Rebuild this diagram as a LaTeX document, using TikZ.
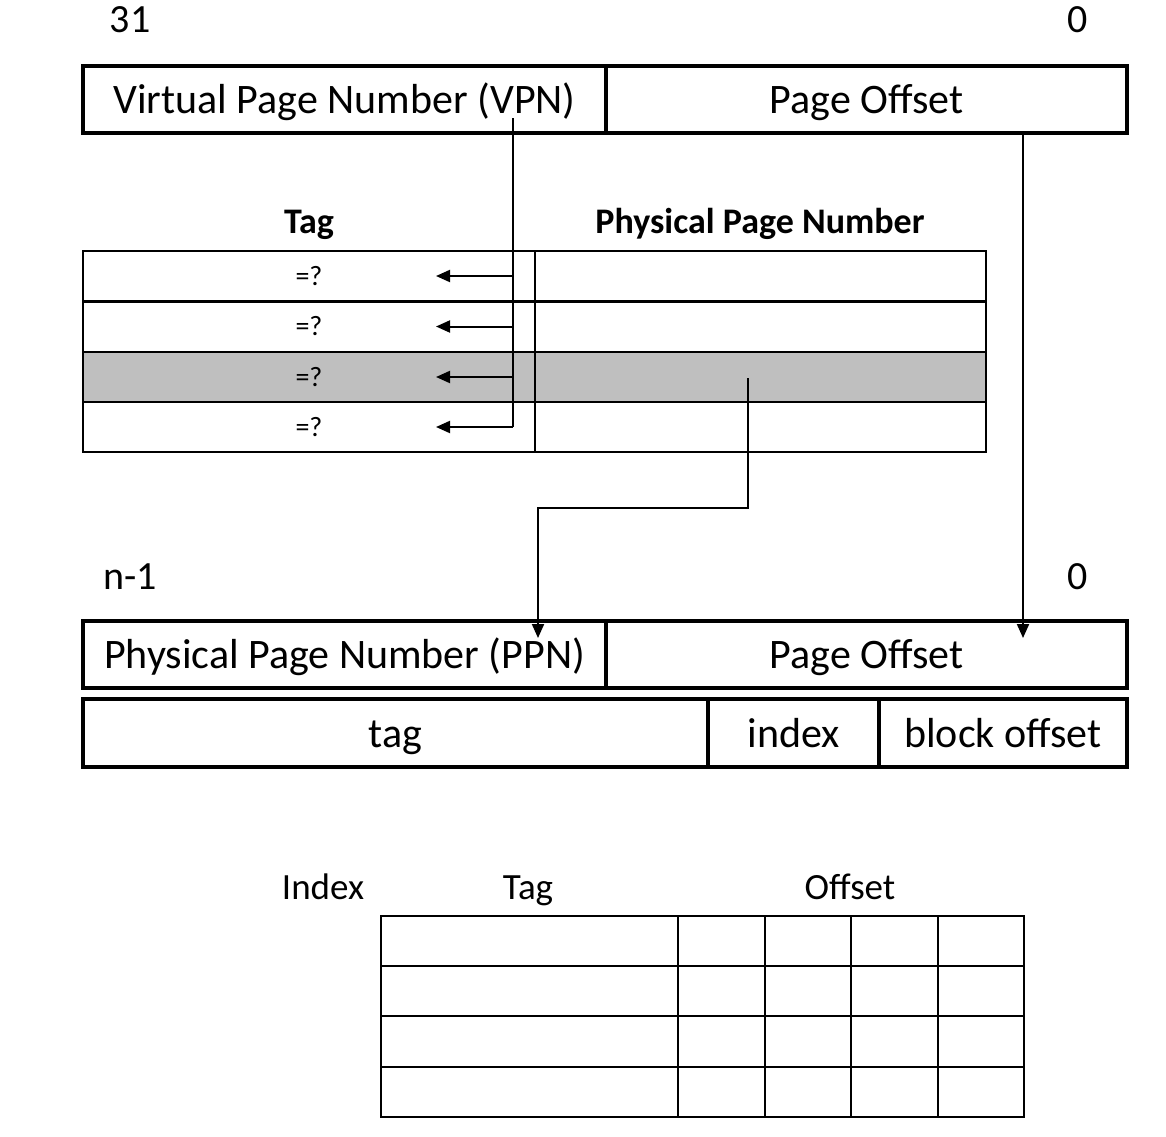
\documentclass[tikz,border=0pt]{standalone}
\usepackage{fontspec}
\setmainfont{Carlito}
\usetikzlibrary{arrows.meta}

\begin{document}
\begin{tikzpicture}[x=0.5pt, y=-0.5pt,
    field/.style ={rectangle, draw, line width=2pt, inner sep=0pt, minimum height=33.5pt, text height=18pt, text depth=4pt, font=\fontsize{21}{24}\selectfont},
    cell/.style ={rectangle, draw, line width=1pt, inner sep=0pt, minimum height=25pt},
    bitno/.style ={font=\fontsize{20}{23}\selectfont},
    hdr/.style ={text height=15pt, text depth=3pt, font=\fontsize{18}{21}\selectfont\bfseries},
    lbl/.style ={text height=16pt, text depth=3pt, font=\fontsize{18.5}{22}\selectfont},
    tip/.style ={line width=1pt, -{Triangle[length=7pt,width=6pt]}}]
   \useasboundingbox (0,0) rectangle (1166,1136);
   % virtual address
   \node[bitno] (va31) at (130,20) {31};
   \node[bitno] (va0)  at (1078,20) {0};
   \node[field, minimum width=261.5pt] (vpn)  at (344.5,99) {Virtual Page Number (VPN)};
   \node[field, minimum width=260.5pt] (voff) at (866.5,99) {Page Offset};
   % TLB
   \node[hdr] (tlbtag) at (309,221) {Tag};
   \node[hdr] (tlbppn) at (760,221) {Physical Page Number};
   \foreach \r/\y/\f in {1/276/white, 2/326.5/white, 3/377/black!25, 4/427/white} {
     \node[cell, fill=\f, minimum width=226pt] (tag\r) at (309,\y) {\fontsize{14}{16}\selectfont =?};
     \node[cell, fill=\f, minimum width=225.5pt] (pn\r) at (760.5,\y) {};
     \coordinate (cmp\r) at (436,\y);
   }
   % physical address
   \node[bitno] (pan1) at (130,577) {n-1};
   \node[bitno] (pa0)  at (1078,577) {0};
   \node[field, minimum width=261.5pt] (ppn)  at (344.5,654.5) {Physical Page Number (PPN)};
   \node[field, minimum width=260.5pt] (poff) at (866.5,654.5) {Page Offset};
   \node[field, minimum width=312.5pt, minimum height=34pt] (ctag) at (395.5,733) {tag};
   \node[field, minimum width=85.5pt, minimum height=34pt] (cidx) at (793.5,733) {index};
   \node[field, minimum width=124pt, minimum height=34pt] (coff) at (1003,733) {block offset};
   % cache
   \node[lbl] (cacheidx) at (323,886) {Index};
   \node[lbl] (cachetag) at (528,886) {Tag};
   \node[lbl] (cacheoff) at (850,886) {Offset};
   \foreach \r/\y in {1/941, 2/991.25, 3/1041.5, 4/1091.75} {
     \node[cell, minimum width=148.5pt, minimum height=25.1pt] (ct\r) at (529.5,\y) {};
     \foreach \c/\x in {1/721.25, 2/807.75, 3/894.25, 4/980.75}
       \node[cell, minimum width=43.25pt, minimum height=25.1pt] (cb\r\c) at (\x,\y) {};
   }
   % connectors
   \coordinate (vtap) at (513,118);
   \draw[line width=1pt] (vtap) -- (vtap |- cmp4);
   \foreach \r in {1,...,4}
     \draw[tip] (vtap |- cmp\r) -- (cmp\r);
   \coordinate (hit) at (748,378);
   \coordinate (bend) at (538,508);
   \coordinate (ppnin) at (538,638);
   \draw[tip] (hit) |- (bend) -- (ppnin);
   \coordinate (otap) at (1023,132);
   \coordinate (offin) at (1023,638);
   \draw[tip] (otap) -- (offin);
\end{tikzpicture}
\end{document}
